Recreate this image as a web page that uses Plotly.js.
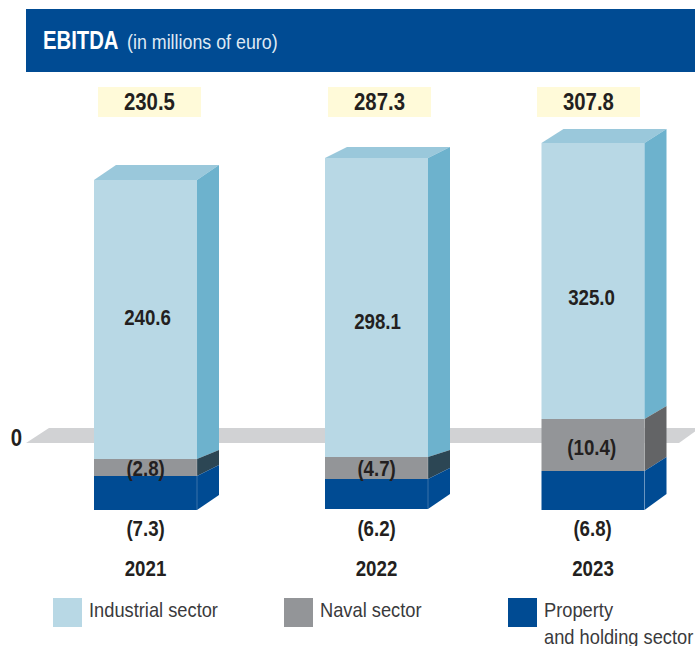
<!DOCTYPE html>
<html><head><meta charset="utf-8">
<script src="https://cdn.plot.ly/plotly-3.0.1.min.js"></script>
<style>html,body{margin:0;padding:0;background:#fff}#chart{width:695px;height:646px}</style>
</head><body><div id="chart"></div>
<script>
// ---- Data ----
const years = ['2021', '2022', '2023'];
const totalEbitda = [230.5, 287.3, 307.8];
const industrial = [240.6, 298.1, 325.0];
const naval = [-2.8, -4.7, -10.4];
const property = [-7.3, -6.2, -6.8];
// Drawn extents of each block (the source graphic is not to scale), height above the "0" plane
const industrialTop = [263, 285, 300];
const industrialBottom = [-16, -14, 24];
const navalBottom = [-33, -36, -28];
const propertyBottom = [-67, -66, -67];
// Same boundaries on the back edge of the side face
const backTop = [278, 296, 314];
const backIndustrialBottom = [-7, -7, 37];
const backNavalBottom = [-22, -25, -14];
const backPropertyBottom = [-52, -51, -51];

// ---- Layout constants ----
const barCenter = [145.5, 376.5, 593];
const barWidth = 103;
const depth = 22;
const totalCenter = [149.5, 379.5, 588.5];
const FONT = '"Liberation Sans",Arial,sans-serif';
const INK = '#231f20';
const C = {
  light: '#b8d8e5', lightTop: '#9ac8db', lightSide: '#6db2cd',
  grey: '#939598', greySideDark: '#2c4654', greySide: '#636466',
  blue: '#004b93', plane: '#d1d2d4', head: '#004b93', yellow: '#fffad9'
};
const PX0 = 443, PLOT_H = 553;
const val = p => PX0 - p;
const py = p => 1 - p / PLOT_H;
const left = i => barCenter[i] - barWidth / 2;
const right = i => barCenter[i] + barWidth / 2;

function bar(name, base, top, color) {
  return {type: 'bar', name, x: barCenter, base, y: top.map((t, i) => t - base[i]),
    width: barWidth, marker: {color, line: {width: 0}}, showlegend: false, hoverinfo: 'skip'};
}
function poly(name, xs, ys, color) {
  return {type: 'scatter', mode: 'lines', name, x: xs.concat(xs[0]), y: ys.concat(ys[0]),
    fill: 'toself', fillcolor: color, line: {width: 0, color}, showlegend: false, hoverinfo: 'skip'};
}
const traces = [
  bar('Property and holding sector', propertyBottom, navalBottom, C.blue),
  bar('Naval sector', navalBottom, industrialBottom, C.grey),
  bar('Industrial sector', industrialBottom, industrialTop, C.light)
];
years.forEach((yr, i) => {
  const r = right(i), l = left(i), b = r + depth;
  traces.push(poly('top ' + yr, [l, r, b, l + depth], [industrialTop[i], industrialTop[i], backTop[i], backTop[i]], C.lightTop));
  traces.push(poly('side industrial ' + yr, [r, b, b, r], [industrialTop[i], backTop[i], backIndustrialBottom[i], industrialBottom[i]], C.lightSide));
  traces.push(poly('side naval ' + yr, [r, b, b, r], [industrialBottom[i], backIndustrialBottom[i], backNavalBottom[i], navalBottom[i]], i === 2 ? C.greySide : C.greySideDark));
  traces.push(poly('side property ' + yr, [r, b, b, r], [navalBottom[i], backNavalBottom[i], backPropertyBottom[i], propertyBottom[i]], C.blue));
  traces.push({type: 'scatter', mode: 'lines', name: 'edge ' + yr, x: [r, r], y: [industrialBottom[i], propertyBottom[i]],
    line: {width: 0.75, color: 'rgba(255,255,255,0.3)'}, showlegend: false, hoverinfo: 'skip'});
});

const neg = v => '(' + Math.abs(v).toFixed(1) + ')';
function label(text, x, p, size, extra) {
  return Object.assign({text, x, y: val(p), xref: 'x', yref: 'y', showarrow: false,
    xanchor: 'center', yanchor: 'middle', font: {family: FONT, size, color: INK, weight: 'bold'}}, extra || {});
}
const annotations = [];
years.forEach((yr, i) => {
  annotations.push(label(totalEbitda[i].toFixed(1), totalCenter[i], 102, 23,
    {width: barWidth, height: 30, bgcolor: C.yellow, borderpad: 0, borderwidth: 0, align: 'center', valign: 'middle'}));
});
const indX = [147.5, 377.5, 591], indP = [317, 321, 297];
const navX = [145.5, 376, 591], navP = [468, 468, 447];
const proX = [145.5, 376, 592];
years.forEach((yr, i) => {
  annotations.push(label(industrial[i].toFixed(1), indX[i], indP[i], 22));
  annotations.push(label(neg(naval[i]), navX[i], navP[i], 22));
  annotations.push(label(neg(property[i]), proX[i], 528.5, 22));
});
annotations.push(label('0', 16, 438, 23));
const subtitle = '(in millions of euro)';
annotations.push({text: subtitle, xref: 'paper', yref: 'paper', x: 124.5 / 695, y: py(42), showarrow: false,
  xanchor: 'left', yanchor: 'middle', font: {family: FONT, size: 20.5, color: '#dfe9f3'}});

const legendItems = [
  {name: ['Industrial sector'], x: 53, color: C.light},
  {name: ['Naval sector'], x: 284, color: C.grey},
  {name: ['Property', 'and holding sector'], x: 508, color: C.blue}
];
const shapes = [
  {type: 'rect', xref: 'paper', yref: 'paper', x0: 26 / 695, x1: 1, y0: py(72), y1: py(9), fillcolor: C.head, line: {width: 0}, layer: 'below'},
  {type: 'path', xref: 'x', yref: 'y', layer: 'below', fillcolor: C.plane, line: {width: 0},
   path: `M26,0 L49,15 L700,15 L679,0 Z`}
];
legendItems.forEach(it => {
  shapes.push({type: 'rect', xref: 'paper', yref: 'paper', x0: it.x / 695, x1: (it.x + 29) / 695,
    y0: py(627), y1: py(598), fillcolor: it.color, line: {width: 0}});
  it.name.forEach((line, j) => {
    annotations.push({text: line, xref: 'paper', yref: 'paper', x: (it.x + 33.5) / 695, y: py(609 + j * 27),
      showarrow: false, xanchor: 'left', yanchor: 'middle', font: {family: FONT, size: 21, color: '#3a3a3c'}});
  });
});
const leftAligned = new Set([subtitle].concat(...legendItems.map(it => it.name)));

const layout = {
  width: 695, height: 646, autosize: false, showlegend: false,
  paper_bgcolor: '#fff', plot_bgcolor: 'rgba(0,0,0,0)',
  margin: {l: 0, r: 0, t: 0, b: 646 - PLOT_H, pad: 0},
  barmode: 'overlay',
  title: {
    text: 'EBITDA',
    x: 43 / 695, xanchor: 'left', xref: 'container', y: 1 - 40 / 646, yanchor: 'middle', yref: 'container',
    font: {family: FONT, size: 26, color: '#fff', weight: 'bold'}, pad: {l: 0, t: 0, b: 0, r: 0}
  },
  xaxis: {range: [0, 695], type: 'linear', showgrid: false, zeroline: false, showline: false, fixedrange: true,
    tickmode: 'array', tickvals: barCenter, ticktext: years, ticks: '',
    tickfont: {family: FONT, size: 22, color: INK, weight: 'bold'}},
  yaxis: {range: [val(PLOT_H), val(0)], showgrid: false, zeroline: false, showline: false, showticklabels: false, ticks: '', fixedrange: true},
  shapes, annotations
};
// The source face is a condensed grotesque; no such face is installed, so narrow the glyphs per size.
const narrowBySize = {20.5: 0.87, 21: 0.87, 22: 0.85, 23: 0.885, 26: 0.78};
Plotly.newPlot('chart', traces, layout, {displayModeBar: false, staticPlot: true}).then(gd => {
  gd.querySelectorAll('svg text').forEach(t => {
    const k = narrowBySize[parseFloat(t.style.fontSize)];
    if (!k || !t.textContent) return;
    const w = t.getComputedTextLength();
    t.setAttribute('textLength', (w * k).toFixed(2));
    t.setAttribute('lengthAdjust', 'spacingAndGlyphs');
    // Annotation text is centred in its box, so keep left-aligned labels on their left edge.
    if (leftAligned.has(t.textContent)) {
      t.setAttribute('x', (parseFloat(t.getAttribute('x') || 0) - w * (1 - k) / 2).toFixed(2));
    }
  });
});
</script>
</body></html>
